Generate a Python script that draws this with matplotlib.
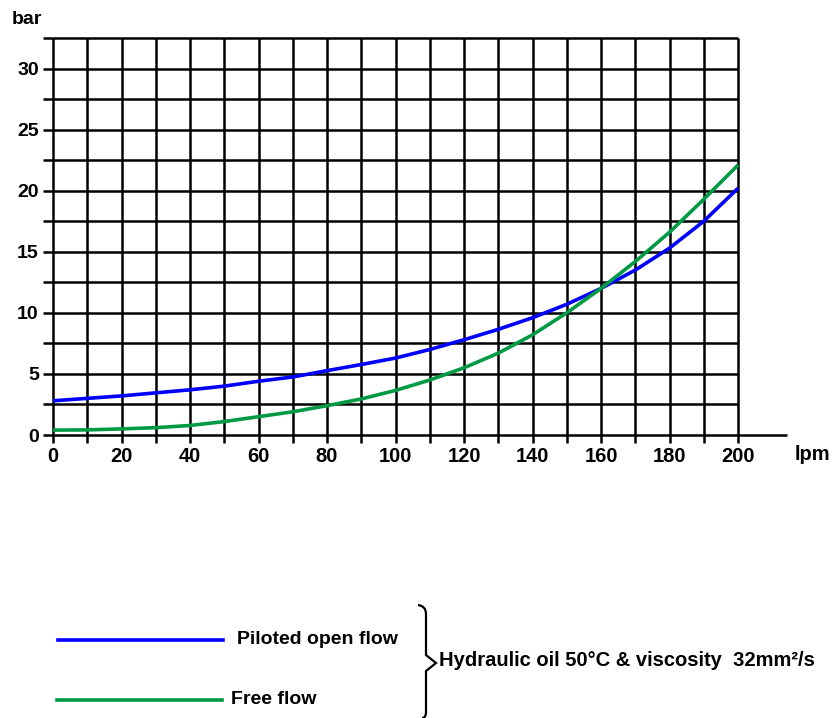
import matplotlib
matplotlib.use('Agg')
import matplotlib.pyplot as plt
from matplotlib.lines import Line2D
from matplotlib.path import Path
from matplotlib.patches import PathPatch

# flow in lpm
flow = [0, 10, 20, 30, 40, 50, 60, 70, 80, 90, 100,
        110, 120, 130, 140, 150, 160, 170, 180, 190, 200]
# pressure drop in bar
piloted = [2.8, 3.0, 3.2, 3.45, 3.7, 4.0, 4.4, 4.75, 5.27, 5.77, 6.3,
           7.0, 7.8, 8.65, 9.6, 10.7, 12.0, 13.5, 15.3, 17.5, 20.2]
free = [0.4, 0.42, 0.5, 0.6, 0.78, 1.1, 1.5, 1.9, 2.4, 2.95, 3.65,
        4.5, 5.5, 6.7, 8.2, 10.0, 12.0, 14.2, 16.6, 19.3, 22.1]

x_labels = ['0', '20', '40', '60', '80', '100', '120', '140', '160', '180', '200']
y_labels = ['0', '5', '10', '15', '20', '25', '30']

plt.rcParams['font.family'] = ['Liberation Sans', 'DejaVu Sans']
plt.rcParams['font.weight'] = 'bold'

W, H = 832, 718
fig = plt.figure(figsize=(W / 100, H / 100), dpi=100)

# axes box in pixels: x 53..787, y 38..435
ax = fig.add_axes([53 / W, (H - 435) / H, (787 - 53) / W, (435 - 38) / H])
ax.set_xlim(0, 214.3)
ax.set_ylim(0, 32.5)
for s in ax.spines.values():
    s.set_visible(False)

# grid
gx = list(range(0, 201, 10))
gy = [i * 2.5 for i in range(1, 14)]
ax.hlines(gy, 0, 200, colors='black', lw=1.8, clip_on=False, zorder=1)
ax.hlines([0], 0, 214.3, colors='black', lw=1.8, clip_on=False, zorder=1)
ax.vlines(gx, 0, 32.5, colors='black', lw=1.8, clip_on=False, zorder=1)

ax.set_xticks(range(0, 201, 20), labels=x_labels)
ax.set_xticks(range(10, 200, 20), minor=True)
ax.set_yticks([i * 2.5 for i in range(0, 14)], minor=True)
ax.set_yticks(range(0, 31, 5), labels=y_labels)
ax.tick_params(axis='x', which='both', direction='out', length=5.5, width=1.8,
               pad=3, labelsize=14.5)
ax.tick_params(axis='y', which='both', direction='out', length=7.2, width=1.8,
               pad=3, labelsize=14)

ax.plot(flow, piloted, color='#0000ff', lw=2.6, zorder=3, solid_capstyle='butt')
ax.plot(flow, free, color='#009a44', lw=2.6, zorder=3, solid_capstyle='butt')

fig.text(27 / W, 1 - 19 / H, 'bar', ha='center', va='center', fontsize=14, fontweight='bold')
fig.text(812 / W, 1 - 455 / H, 'lpm', ha='center', va='center', fontsize=14.5, fontweight='bold')

# legend
fig.add_artist(Line2D([58 / W, 223 / W], [1 - 640 / H, 1 - 640 / H], color='#0000ff', lw=2.6))
fig.add_artist(Line2D([57 / W, 222 / W], [1 - 700 / H, 1 - 700 / H], color='#009a44', lw=2.6))
fig.text(237 / W, 1 - 639 / H, 'Piloted open flow', ha='left', va='center', fontsize=14, fontweight='bold')
fig.text(231 / W, 1 - 699 / H, 'Free flow', ha='left', va='center', fontsize=14, fontweight='bold')

# brace
pts = [(418, 605), (426, 606), (426, 614), (426, 655), (436, 663), (426, 671),
       (426, 712), (426, 718), (422, 718)]
codes = [Path.MOVETO, Path.CURVE3, Path.CURVE3, Path.LINETO, Path.LINETO, Path.LINETO,
         Path.LINETO, Path.CURVE3, Path.CURVE3]
verts = [(px / W, 1 - py / H) for px, py in pts]
fig.add_artist(PathPatch(Path(verts, codes), transform=fig.transFigure,
                         fill=False, lw=1.6, edgecolor='black'))

fig.text(439 / W, 1 - 661 / H, 'Hydraulic oil 50°C & viscosity  32mm²/s',
         ha='left', va='center', fontsize=14.5, fontweight='bold')

fig.savefig('out.png', dpi=100)
